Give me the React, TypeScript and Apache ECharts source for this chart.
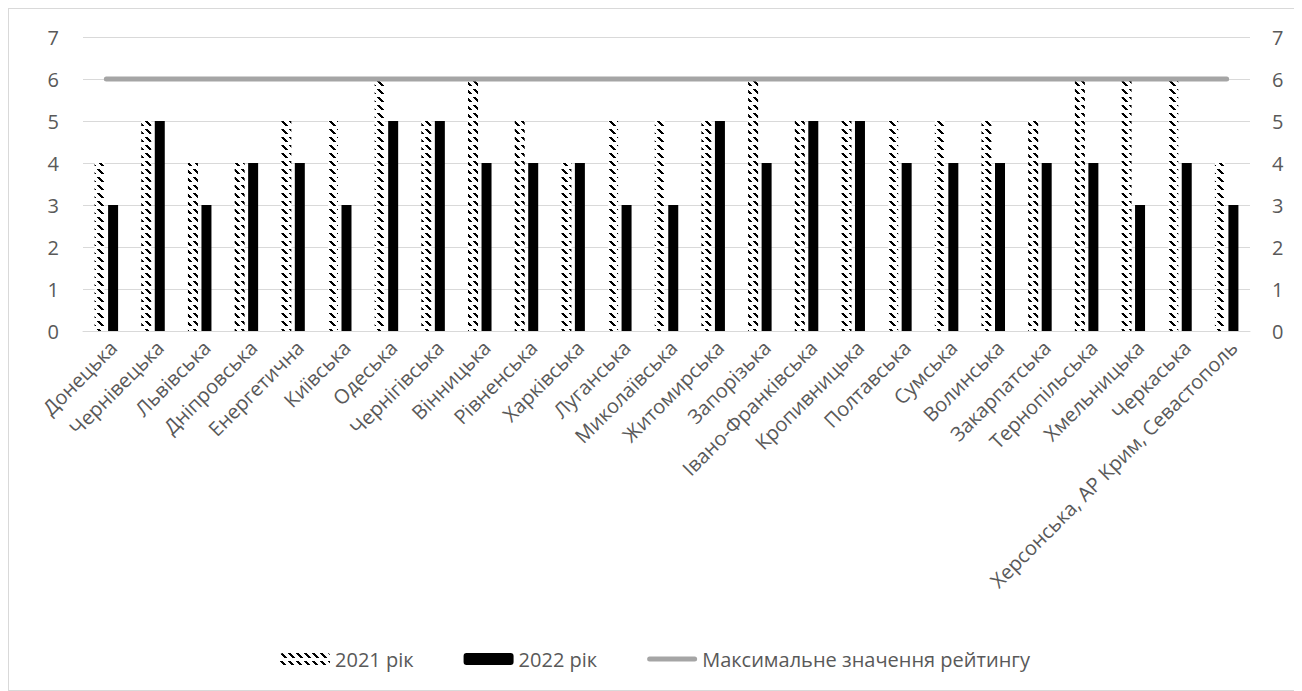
import React, { useEffect, useRef } from "react";
import * as echarts from "echarts";

const categories = [
  "Донецька", "Чернівецька", "Львівська", "Дніпровська", "Енергетична", "Київська",
  "Одеська", "Чернігівська", "Вінницька", "Рівненська", "Харківська", "Луганська",
  "Миколаївська", "Житомирська", "Запорізька", "Івано-Франківська", "Кропивницька",
  "Полтавська", "Сумська", "Волинська", "Закарпатська", "Тернопільська", "Хмельницька",
  "Черкаська", "Херсонська, АР Крим, Севастополь",
];
const values2021 = [4, 5, 4, 4, 5, 5, 6, 5, 6, 5, 4, 5, 5, 5, 6, 5, 5, 5, 5, 5, 5, 6, 6, 6, 4];
const values2022 = [3, 5, 3, 4, 4, 3, 5, 5, 4, 4, 4, 3, 3, 5, 4, 5, 5, 4, 4, 4, 4, 4, 3, 4, 3];
const maxRating = categories.map(() => 6);
const seriesNames = ["2021 рік", "2022 рік", "Максимальне значення рейтингу"];
const yTicks = [0, 1, 2, 3, 4, 5, 6, 7];

function makePattern(): string {
  const c = document.createElement("canvas");
  c.width = 8;
  c.height = 8;
  const ctx = c.getContext("2d")!;
  ctx.fillStyle = "#ffffff";
  ctx.fillRect(0, 0, 8, 8);
  ctx.fillStyle = "#000000";
  for (let i = 0; i < 5; i++) {
    ctx.fillRect(i, i, 3, 1);
  }
  return c.toDataURL();
}

const LINE_ICON = "path://M2.5,0 L47.5,0 A2.5,2.5 0 0 1 47.5,5 L2.5,5 A2.5,2.5 0 0 1 2.5,0 Z";

export default function App() {
  const ref = useRef<HTMLDivElement>(null);
  useEffect(() => {
    if (!ref.current) return;
    const chart = echarts.init(ref.current, undefined, { renderer: "svg" });
    const pattern = { image: makePattern(), repeat: "repeat", imageWidth: 8, imageHeight: 8 } as any;
    const font = "'Open Sans', 'Noto Sans', sans-serif";
    const yAxisCommon = {
      type: "value" as const,
      min: yTicks[0],
      max: yTicks[yTicks.length - 1],
      interval: 1,
      axisLine: { show: false },
      axisTick: { show: false },
      axisLabel: { color: "#595959", fontSize: 20, fontFamily: font },
    };
    chart.setOption({
      animation: false,
      textStyle: { fontFamily: font },
      grid: { left: 74, right: 51, top: 28, bottom: 359 },
      legend: {
        left: "center",
        top: 635,
        itemWidth: 50,
        itemHeight: 12,
        itemGap: 50,
        textStyle: { color: "#595959", fontSize: 20, fontFamily: font },
        data: [
          { name: seriesNames[0] },
          { name: seriesNames[1] },
          { name: seriesNames[2], icon: LINE_ICON, itemStyle: { color: "#a5a5a5", borderWidth: 0 } },
        ],
      },
      xAxis: {
        type: "category",
        data: categories,
        axisLine: { lineStyle: { color: "#d9d9d9", width: 1 } },
        axisTick: { show: false },
        axisLabel: {
          rotate: 45,
          color: "#595959",
          fontSize: 20,
          fontFamily: font,
          interval: 0,
          margin: 6,
          verticalAlign: "top",
        },
      },
      yAxis: [
        { ...yAxisCommon, position: "left", axisLabel: { ...yAxisCommon.axisLabel, margin: 24 }, splitLine: { lineStyle: { color: "#d9d9d9" } } },
        { ...yAxisCommon, position: "right", axisLabel: { ...yAxisCommon.axisLabel, margin: 22 }, splitLine: { show: false } },
      ],
      series: [
        {
          name: seriesNames[0],
          type: "bar",
          data: values2021,
          barWidth: 10,
          barGap: "35%",
          itemStyle: { color: pattern },
          z: 2,
        },
        {
          name: seriesNames[1],
          type: "bar",
          data: values2022,
          barWidth: 10,
          itemStyle: { color: "#000000" },
          z: 2,
        },
        {
          name: seriesNames[2],
          type: "line",
          data: maxRating,
          symbol: "none",
          lineStyle: { color: "#a5a5a5", width: 5, cap: "round" },
          itemStyle: { color: "#a5a5a5" },
          z: 5,
        },
      ],
    });
    return () => chart.dispose();
  }, []);
  return (
    <div style={{ width: 1294, height: 683, border: "1px solid #d9d9d9", boxSizing: "border-box" }}>
      <div ref={ref} style={{ width: 1292, height: 681 }} />
    </div>
  );
}
